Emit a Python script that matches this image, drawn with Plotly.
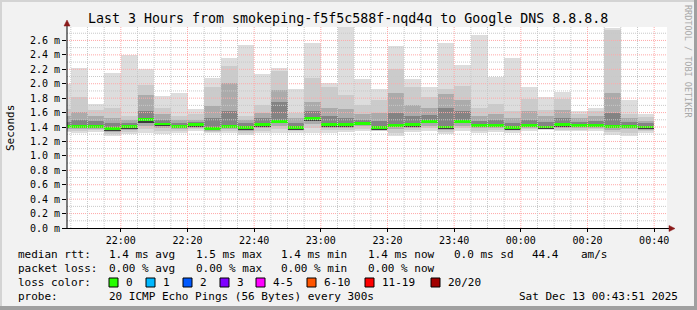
import pandas as pd
import plotly.graph_objects as go

# ---------------- data ----------------
bar_start = "2025-12-12 21:42:30"   # centre of first 5-min step (partly clipped)
rtt_max = [2.00, 2.22, 1.72, 2.15, 2.40, 2.21, 1.83, 1.87, 1.65, 2.08, 2.36, 2.53, 2.13, 2.22, 1.93, 2.57, 2.01, 2.78,
           2.07, 1.93, 2.52, 2.07, 1.96, 2.57, 2.26, 2.67, 2.10, 2.35, 1.96, 1.82, 1.88, 1.62, 1.67, 2.77, 1.78, 1.58]
rtt_p90 = [1.65, 1.82, 1.64, 1.66, 1.55, 1.98, 1.67, 1.55, 1.58, 1.95, 2.25, 1.55, 1.70, 2.17, 1.60, 2.08, 1.95, 1.85,
           1.70, 1.78, 2.20, 1.95, 1.82, 1.92, 1.97, 1.67, 1.72, 1.62, 1.79, 1.63, 1.79, 1.58, 1.62, 2.75, 1.58, 1.54]
rtt_p75 = [1.55, 1.61, 1.55, 1.52, 1.50, 1.85, 1.58, 1.50, 1.50, 1.69, 2.01, 1.50, 1.60, 1.91, 1.52, 1.75, 1.67, 1.65,
           1.58, 1.60, 1.87, 1.70, 1.67, 1.86, 1.78, 1.55, 1.58, 1.52, 1.62, 1.55, 1.63, 1.52, 1.55, 1.87, 1.52, 1.49]
rtt_p60 = [1.47, 1.50, 1.48, 1.45, 1.46, 1.62, 1.50, 1.46, 1.47, 1.52, 1.62, 1.45, 1.52, 1.75, 1.46, 1.62, 1.55, 1.52,
           1.50, 1.48, 1.60, 1.55, 1.56, 1.67, 1.62, 1.48, 1.50, 1.46, 1.50, 1.47, 1.52, 1.47, 1.48, 1.60, 1.47, 1.45]
rtt_median = [1.41, 1.41, 1.41, 1.38, 1.41, 1.505, 1.44, 1.41, 1.435, 1.38, 1.41, 1.39, 1.435, 1.48, 1.39, 1.52, 1.435, 1.435,
              1.45, 1.39, 1.42, 1.435, 1.48, 1.40, 1.48, 1.42, 1.42, 1.39, 1.42, 1.40, 1.435, 1.42, 1.42, 1.41, 1.41, 1.40]
rtt_p40 = [1.39, 1.39, 1.39, 1.355, 1.385, 1.46, 1.41, 1.39, 1.41, 1.36, 1.39, 1.365, 1.41, 1.45, 1.37, 1.48, 1.41, 1.41,
           1.43, 1.37, 1.40, 1.41, 1.45, 1.375, 1.45, 1.40, 1.40, 1.37, 1.40, 1.385, 1.41, 1.40, 1.40, 1.39, 1.39, 1.38]
rtt_p25 = [1.37, 1.37, 1.37, 1.335, 1.365, 1.42, 1.39, 1.37, 1.39, 1.345, 1.37, 1.345, 1.39, 1.41, 1.355, 1.44, 1.39, 1.39,
           1.41, 1.36, 1.37, 1.39, 1.42, 1.355, 1.42, 1.38, 1.38, 1.355, 1.385, 1.375, 1.39, 1.38, 1.385, 1.365, 1.37, 1.36]
rtt_p10 = [1.35, 1.35, 1.355, 1.31, 1.33, 1.37, 1.35, 1.35, 1.37, 1.335, 1.345, 1.32, 1.35, 1.37, 1.34, 1.38, 1.36, 1.36,
           1.37, 1.35, 1.32, 1.36, 1.38, 1.33, 1.38, 1.35, 1.355, 1.34, 1.37, 1.37, 1.36, 1.36, 1.37, 1.33, 1.32, 1.34]
rtt_min = [1.33, 1.32, 1.33, 1.28, 1.30, 1.32, 1.31, 1.32, 1.35, 1.32, 1.32, 1.29, 1.32, 1.32, 1.32, 1.32, 1.32, 1.33,
           1.34, 1.34, 1.28, 1.33, 1.35, 1.31, 1.34, 1.32, 1.33, 1.32, 1.35, 1.36, 1.34, 1.34, 1.35, 1.29, 1.28, 1.32]

y_tick_vals = [0.0, 0.2, 0.4, 0.6, 0.8, 1.0, 1.2, 1.4, 1.6, 1.8, 2.0, 2.2, 2.4, 2.6]
y_tick_text = ["0.0 m", "0.2 m", "0.4 m", "0.6 m", "0.8 m", "1.0 m", "1.2 m", "1.4 m", "1.6 m",
               "1.8 m", "2.0 m", "2.2 m", "2.4 m", "2.6 m"]
x_tick_vals = ["2025-12-12 22:00", "2025-12-12 22:20", "2025-12-12 22:40", "2025-12-12 23:00", "2025-12-12 23:20",
               "2025-12-12 23:40", "2025-12-13 00:00", "2025-12-13 00:20", "2025-12-13 00:40"]
x_tick_text = ["22:00", "22:20", "22:40", "23:00", "23:20", "23:40", "00:00", "00:20", "00:40"]

loss_labels = ["0", "1", "2", "3", "4-5", "6-10", "11-19", "20/20"]
loss_colors = ["#26ff00", "#00b8ff", "#0059ff", "#7e00ff", "#ff00ff", "#ff5500", "#ff0000", "#a10000"]
loss_box_x = [109, 146, 183, 220, 256, 307, 365, 431]

title = "Last 3 Hours from smokeping-f5f5c588f-nqd4q to Google DNS 8.8.8.8"
x_start, x_end = "2025-12-12 21:43:51", "2025-12-13 00:43:51"

# ---------------- layout geometry (pixels) ----------------
W, H = 697, 310
PL, PR, PT, PB = 67, 667, 27, 228
FONT = "DejaVu Sans Mono"
STEP_MS = 300000


def fx(px):
    return (px - PL) / (PR - PL)


def fy(py):
    return (PB - py) / (PB - PT)


times = pd.date_range(bar_start, periods=len(rtt_median), freq="5min")

fig = go.Figure()

layers = [
    (rtt_min, rtt_max, "#dddddd"),
    (rtt_p10, rtt_p90, "#cbcbcb"),
    (rtt_p25, rtt_p75, "#ababab"),
    (rtt_p40, rtt_p60, "#838383"),
    (rtt_p40, rtt_median, "#3c3c3c"),
]
for lo, hi, col in layers:
    fig.add_trace(go.Bar(
        x=times, base=lo, y=[h - l for h, l in zip(hi, lo)], width=STEP_MS,
        marker=dict(color=col, line=dict(width=0)), hoverinfo="skip", showlegend=False))

MED_H = 0.038
fig.add_trace(go.Bar(
    x=times, base=[m - MED_H / 2 for m in rtt_median], y=[MED_H] * len(rtt_median), width=STEP_MS,
    marker=dict(color=loss_colors[0], line=dict(width=0)), hoverinfo="skip", showlegend=False))

shapes = []
# grid (drawn above data like rrdtool)
for k in range(1, 28):
    v = k / 10
    major = k % 2 == 0
    shapes.append(dict(type="line", xref="paper", yref="y", x0=0, x1=1, y0=v, y1=v, layer="above",
                       line=dict(color="#ffa8a8" if major else "#c8c8c8", width=1, dash="1px,1px")))
grid_times = pd.date_range("2025-12-12 21:45", "2025-12-13 00:40", freq="5min")
for t in grid_times:
    major = t.minute % 20 == 0
    shapes.append(dict(type="line", xref="x", yref="paper", x0=t, x1=t, y0=0, y1=1, layer="above",
                       line=dict(color="#ffa8a8" if major else "#c8c8c8", width=1, dash="1px,1px")))

# axes + arrows
AX = "#000000"
AR = "#8b1a1a"
shapes.append(dict(type="line", xref="paper", yref="paper", x0=fx(67), x1=fx(67), y0=fy(228.5), y1=fy(24),
                   line=dict(color=AX, width=1), layer="above"))
shapes.append(dict(type="line", xref="paper", yref="paper", x0=fx(63), x1=fx(670), y0=fy(228.5), y1=fy(228.5),
                   line=dict(color=AX, width=1), layer="above"))
shapes.append(dict(type="path", xref="paper", yref="paper", layer="above",
                   path=f"M {fx(64)} {fy(26)} L {fx(70)} {fy(26)} L {fx(67)} {fy(20)} Z",
                   fillcolor=AR, line=dict(color=AR, width=0.5)))
shapes.append(dict(type="path", xref="paper", yref="paper", layer="above",
                   path=f"M {fx(669)} {fy(225.5)} L {fx(669)} {fy(231.5)} L {fx(675)} {fy(228.5)} Z",
                   fillcolor=AR, line=dict(color=AR, width=0.5)))

# outer 3D frame
shapes.append(dict(type="rect", xref="paper", yref="paper", x0=fx(0), x1=fx(2), y0=fy(310), y1=fy(0),
                   fillcolor="#d4d4d4", line=dict(width=0), layer="below"))
shapes.append(dict(type="rect", xref="paper", yref="paper", x0=fx(0), x1=fx(697), y0=fy(2), y1=fy(0),
                   fillcolor="#d4d4d4", line=dict(width=0), layer="below"))
shapes.append(dict(type="rect", xref="paper", yref="paper", x0=fx(694), x1=fx(697), y0=fy(310), y1=fy(0),
                   fillcolor="#a0a0a0", line=dict(width=0), layer="below"))
shapes.append(dict(type="rect", xref="paper", yref="paper", x0=fx(0), x1=fx(697), y0=fy(310), y1=fy(306),
                   fillcolor="#a0a0a0", line=dict(width=0), layer="below"))

# loss colour boxes
for bx, col in zip(loss_box_x, loss_colors):
    shapes.append(dict(type="rect", xref="paper", yref="paper", x0=fx(bx), x1=fx(bx + 9),
                       y0=fy(287), y1=fy(278), fillcolor=col, line=dict(color="#000000", width=1)))

annotations = []


def txt(x, y, s, size=11, anchor="left", color="#000000", angle=0):
    annotations.append(dict(text=s, x=fx(x), y=fy(y), xref="paper", yref="paper", showarrow=False,
                            xanchor=anchor, yanchor="middle", textangle=angle,
                            font=dict(family=FONT, size=size, color=color)))


txt(347.5, 19, title, size=13.3, anchor="center")
txt(688, 61, "RRDTOOL / TOBI OETIKER", size=8.5, anchor="center", color="#a8a8a8", angle=90)
txt(10, 128, "Seconds", size=11, anchor="center", angle=-90)

R1, R2, R3, R4 = 254.3, 268, 282.3, 296
txt(16, R1, "median rtt:")
for xx, s in zip([107, 193.7, 279, 366, 451.7, 530, 579.3],
                 ["1.4 ms avg", "1.5 ms max", "1.4 ms min", "1.4 ms now", "0.0 ms sd", "44.4", "am/s"]):
    txt(xx, R1, s)
txt(16, R2, "packet loss:")
for xx, s in zip([107, 193.7, 279, 366], ["0.00 % avg", "0.00 % max", "0.00 % min", "0.00 % now"]):
    txt(xx, R2, s)
txt(16, R3, "loss color:")
for bx, lab in zip(loss_box_x, loss_labels):
    txt(bx + 15, R3, lab)
txt(16, R4, "probe:")
txt(107, R4, "20 ICMP Echo Pings (56 Bytes) every 300s")
txt(680, R4, "Sat Dec 13 00:43:51 2025", anchor="right")

fig.update_layout(
    width=W, height=H,
    margin=dict(l=PL, r=W - PR, t=PT, b=H - PB, pad=0),
    paper_bgcolor="#f2f2f2", plot_bgcolor="#ffffff",
    barmode="overlay", bargap=0, showlegend=False,
    font=dict(family=FONT, size=10, color="#000000"),
    shapes=shapes, annotations=annotations,
    xaxis=dict(type="date", range=[x_start, x_end], showgrid=False, zeroline=False, showline=False,
               tickmode="array", tickvals=x_tick_vals, ticktext=x_tick_text,
               ticks="outside", ticklen=3, tickcolor="#000000", tickfont=dict(family=FONT, size=10)),
    yaxis=dict(range=[0, (PB - PT) / 72.14], showgrid=False, zeroline=False, showline=False,
               tickmode="array", tickvals=y_tick_vals, ticktext=y_tick_text,
               ticks="outside", ticklen=4, tickcolor="#000000", tickfont=dict(family=FONT, size=10)),
)

fig.write_html("out.html")
